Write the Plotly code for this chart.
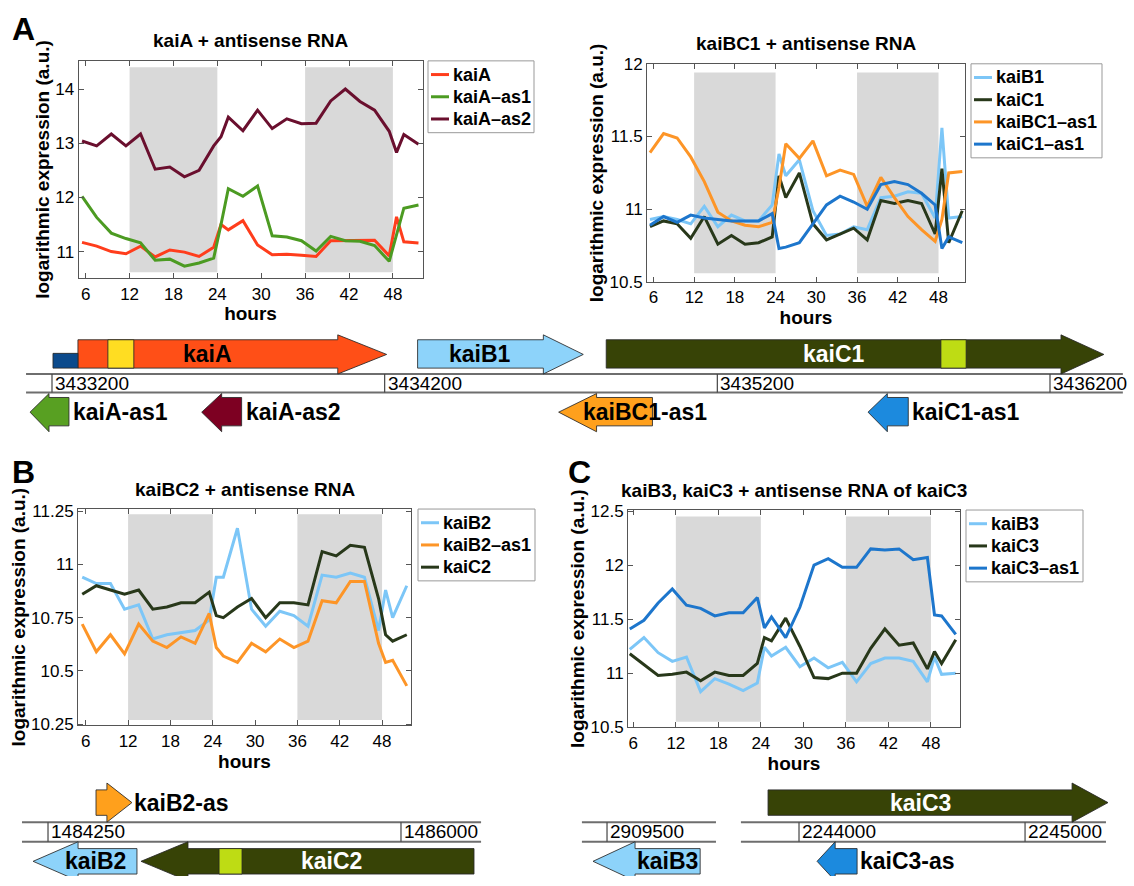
import plotly.graph_objects as go

# ---------------------------------------------------------------- data
hours = [5.5, 7.5, 9.5, 11.5, 13.5, 15.5, 17.5, 19.5, 21.5, 23.5, 24.5, 25.5, 27.5,
         29.5, 31.5, 33.5, 35.5, 37.5, 39.5, 41.5, 43.5, 45.5, 47.5, 48.5, 49.5, 51.5]
dark_intervals = [(12, 24), (36, 48)]
hour_ticks = [6, 12, 18, 24, 30, 36, 42, 48]

kaiA = [11.17, 11.10, 11.00, 10.96, 11.10, 10.90, 11.03, 10.99, 10.91, 11.08, 11.50, 11.40, 11.57,
        11.12, 10.94, 10.95, 10.93, 10.91, 11.20, 11.20, 11.21, 11.21, 10.92, 11.64, 11.18, 11.16]
kaiA_as1 = [12.02, 11.63, 11.34, 11.24, 11.16, 10.84, 10.86, 10.73, 10.79, 10.88, 11.50, 12.16, 12.02,
            12.21, 11.29, 11.27, 11.20, 11.01, 11.28, 11.20, 11.19, 11.11, 10.82, 11.30, 11.80, 11.86]
kaiA_as2 = [13.04, 12.95, 13.17, 12.95, 13.17, 12.52, 12.56, 12.38, 12.50, 12.95, 13.12, 13.48, 13.23,
            13.61, 13.27, 13.45, 13.36, 13.37, 13.78, 14.00, 13.77, 13.61, 13.22, 12.83, 13.16, 12.98]

kaiB1 = [10.93, 10.95, 10.93, 10.90, 11.02, 10.88, 10.96, 10.92, 10.92, 11.03, 11.38, 11.23, 11.34,
         10.99, 10.82, 10.83, 10.88, 10.86, 11.08, 11.09, 11.12, 11.11, 10.94, 11.56, 10.94, 10.95]
kaiC1 = [10.88, 10.92, 10.90, 10.80, 10.95, 10.76, 10.82, 10.76, 10.77, 10.81, 11.23, 11.08, 11.25,
         10.90, 10.79, 10.83, 10.87, 10.79, 11.06, 11.04, 11.06, 11.04, 10.83, 11.28, 10.77, 10.99]
kaiBC1_as1 = [11.39, 11.52, 11.49, 11.36, 11.19, 10.98, 10.92, 10.89, 10.88, 10.91, 11.15, 11.45, 11.35,
              11.47, 11.23, 11.27, 11.24, 11.02, 11.22, 11.08, 10.95, 10.86, 10.78, 10.93, 11.25, 11.26]
kaiC1_as1 = [10.89, 10.95, 10.91, 10.96, 10.94, 10.93, 10.92, 10.92, 10.92, 10.97, 10.73, 10.74, 10.77,
             10.90, 11.03, 11.09, 11.05, 11.00, 11.17, 11.19, 11.17, 11.11, 11.03, 10.73, 10.81, 10.77]

kaiB2 = [10.94, 10.91, 10.91, 10.79, 10.81, 10.65, 10.67, 10.68, 10.69, 10.74, 10.94, 10.94, 11.17,
         10.79, 10.71, 10.78, 10.76, 10.71, 10.95, 10.94, 10.96, 10.94, 10.69, 10.88, 10.75, 10.90]
kaiB2_as1 = [10.72, 10.59, 10.67, 10.58, 10.72, 10.64, 10.61, 10.66, 10.63, 10.77, 10.61, 10.57, 10.54,
             10.63, 10.59, 10.65, 10.61, 10.64, 10.83, 10.82, 10.92, 10.92, 10.63, 10.54, 10.55, 10.43]
kaiC2 = [10.86, 10.90, 10.88, 10.86, 10.88, 10.79, 10.80, 10.82, 10.82, 10.87, 10.76, 10.75, 10.80,
         10.84, 10.75, 10.82, 10.82, 10.81, 11.06, 11.04, 11.09, 11.08, 10.84, 10.67, 10.64, 10.67]

kaiB3 = [11.22, 11.33, 11.19, 11.11, 11.15, 10.83, 10.95, 10.90, 10.84, 10.91, 11.24, 11.16, 11.24,
         11.06, 11.14, 11.05, 11.10, 10.92, 11.09, 11.14, 11.14, 11.11, 10.92, 11.15, 10.99, 11.00]
kaiC3 = [11.18, 11.08, 10.98, 10.99, 11.01, 10.93, 11.01, 10.98, 10.98, 11.09, 11.33, 11.30, 11.51,
         11.25, 10.96, 10.95, 11.00, 11.00, 11.23, 11.41, 11.26, 11.28, 11.04, 11.20, 11.09, 11.31]
kaiC3_as1 = [11.41, 11.49, 11.65, 11.78, 11.63, 11.60, 11.53, 11.56, 11.56, 11.70, 11.42, 11.52, 11.33,
             11.61, 12.00, 12.06, 11.98, 11.98, 12.15, 12.14, 12.15, 12.05, 12.07, 11.54, 11.53, 11.36]

ytick_a1 = ["11", "12", "13", "14"]
ytick_a2 = ["10.5", "11", "11.5", "12"]
ytick_b = ["10.25", "10.5", "10.75", "11", "11.25"]
ytick_c = ["10.5", "11", "11.5", "12", "12.5"]

# genome coordinates (bp): name, start, end, strand
genes_a = [("kaiA", 3433278, 3434206, 1), ("kaiB1", 3434299, 3434797, 1),
           ("kaiC1", 3434866, 3436362, 1), ("kaiA-as1", 3433134, 3433251, -1),
           ("kaiA-as2", 3433650, 3433770, -1), ("kaiBC1-as1", 3434723, 3435005, -1),
           ("kaiC1-as1", 3435653, 3435774, -1)]
# sequence features (bp): start, end, strand
features_a = [(3433203, 3433278, 1), (3433368, 3433446, 1), (3435872, 3435948, 1)]
ruler_a = [3433122, 3436419]
ticks_a = [3433200, 3434200, 3435200, 3436200]

genes_b = [("kaiB2-as", 1484488, 1484666, 1), ("kaiB2", 1484176, 1484691, -1),
           ("kaiC2", 1484711, 1486362, -1)]
features_b = [(1485098, 1485212, -1)]
ruler_b = [1484121, 1486397]
ticks_b = [1484250, 1486000]

genes_c1 = [("kaiB3", 2909438, 2909912, -1)]
ruler_c1 = [2909389, 2909982]
ticks_c1 = [2909500]

genes_c2 = [("kaiC3", 2243863, 2245367, 1), ("kaiC3-as", 2244080, 2244257, -1)]
ruler_c2 = [2243743, 2245358]
ticks_c2 = [2244000, 2245000]

# ---------------------------------------------------------------- style
W, H = 1134, 886
FONT = "Liberation Sans, Arial, sans-serif"
LW = 3

def xdom(a, b):
    return [a / W, b / W]

def ydom(top, bottom):
    return [1 - bottom / H, 1 - top / H]

line_colors = {
    "kaiA": "#ff3d1c", "kaiA\u2013as1": "#4c9b22", "kaiA\u2013as2": "#6a0f2e",
    "kaiB1": "#7cc6f7", "kaiC1": "#28381a", "kaiBC1\u2013as1": "#fd9527", "kaiC1\u2013as1": "#1d76cc",
    "kaiB2": "#7cc6f7", "kaiB2\u2013as1": "#fd9527", "kaiC2": "#28381a",
    "kaiB3": "#7cc6f7", "kaiC3": "#28381a", "kaiC3\u2013as1": "#1d76cc",
}

gene_colors = {
    "kaiA": "#ff4f17", "kaiB1": "#8dd3fa", "kaiC1": "#374306", "kaiA-as1": "#58a022",
    "kaiA-as2": "#7d0022", "kaiBC1-as1": "#ffa01c", "kaiC1-as1": "#1c8ade",
    "kaiB2-as": "#ffa01c", "kaiB2": "#8dd3fa", "kaiC2": "#374306",
    "kaiB3": "#8dd3fa", "kaiC3": "#374306", "kaiC3-as": "#1c8ade",
}
# colour and height fraction of each feature box
feature_style_a = [("#0b4a8c", 0.52), ("#ffdd22", 1.0), ("#bedc14", 1.0)]
feature_style_b = [("#bedc14", 1.0)]

# arrow head length in bp
head_len = {"kaiA": 147, "kaiB1": 120, "kaiC1": 129, "kaiA-as1": 57, "kaiA-as2": 60,
            "kaiBC1-as1": 114, "kaiC1-as1": 58, "kaiB2-as": 124, "kaiB2": 223,
            "kaiC2": 233, "kaiB3": 186, "kaiC3": 159, "kaiC3-as": 80}
white_text = {"kaiC1", "kaiC2", "kaiC3"}

fig = go.Figure()

panels = [
    # axis suffix, domain x, domain y, x range, y range, yticks, ytext, shade y, title, series,
    # legend box (left, top, width)
    ("", xdom(78.6, 422.5), ydom(53, 275), [5.03, 52.05], [10.51, 14.52],
     [11, 12, 13, 14], ytick_a1, (10.62, 14.40), "kaiA + antisense RNA",
     [("kaiA", kaiA), ("kaiA\u2013as1", kaiA_as1), ("kaiA\u2013as2", kaiA_as2)],
     (428, 53, 106)),
    ("2", xdom(647, 965), ydom(56, 279), [5.06, 51.9], [10.5, 12.0],
     [10.5, 11, 11.5, 12], ytick_a2, (10.56, 11.94), "kaiBC1 + antisense RNA",
     [("kaiB1", kaiB1), ("kaiC1", kaiC1), ("kaiBC1\u2013as1", kaiBC1_as1), ("kaiC1\u2013as1", kaiC1_as1)],
     (971, 56, 131)),
    ("3", xdom(78, 411), ydom(511, 732), [4.9, 52.1], [10.245, 11.26],
     [10.25, 10.5, 10.75, 11, 11.25], ytick_b, (10.27, 11.235), "kaiBC2 + antisense RNA",
     [("kaiB2", kaiB2), ("kaiB2\u2013as1", kaiB2_as1), ("kaiC2", kaiC2)],
     (418, 511, 117)),
    ("4", xdom(628, 960), ydom(512, 734), [5.25, 52.1], [10.5, 12.51],
     [10.5, 11, 11.5, 12, 12.5], ytick_c, (10.55, 12.45), "kaiB3, kaiC3 + antisense RNA of kaiC3",
     [("kaiB3", kaiB3), ("kaiC3", kaiC3), ("kaiC3\u2013as1", kaiC3_as1)],
     (966, 512, 117)),
]

layout_axes = {}
shapes = []
annotations = []
ROW0, ROWSTEP = 14, 22.7

for suf, dx, dy, xr, yr, ytv, ytt, shade, title, series, leg in panels:
    xa, ya = "x" + suf, "y" + suf
    for name, vals in series:
        fig.add_trace(go.Scatter(
            x=hours, y=vals, mode="lines", name=name, showlegend=False,
            line=dict(color=line_colors[name], width=LW),
            xaxis=xa, yaxis=ya, hoverinfo="skip"))
    for a, b in dark_intervals:
        shapes.append(dict(type="rect", xref=xa, yref=ya, x0=a, x1=b, y0=shade[0], y1=shade[1],
                           fillcolor="#d9d9d9", line=dict(width=0), layer="below"))
    common = dict(showline=True, linecolor="#555", linewidth=1, mirror="ticks",
                  ticks="inside", ticklen=5, tickwidth=1, tickcolor="#555",
                  showgrid=False, zeroline=False, fixedrange=True,
                  tickfont=dict(family=FONT, size=17, color="black"))
    layout_axes["xaxis" + suf] = dict(
        domain=dx, range=xr, anchor=ya, tickvals=hour_ticks,
        ticktext=[str(t) for t in hour_ticks],
        title=dict(text="hours", standoff=0,
                   font=dict(family=FONT, size=19, color="black", weight="bold")),
        **common)
    layout_axes["yaxis" + suf] = dict(
        domain=dy, range=yr, anchor=xa, tickvals=ytv, ticktext=ytt,
        title=dict(text="logarithmic expression (a.u.)", standoff=0,
                   font=dict(family=FONT, size=19, color="black", weight="bold")),
        **common)
    annotations.append(dict(
        text=title, xref="paper", yref="paper", x=(dx[0] + dx[1]) / 2,
        y=dy[1], yshift=20, xanchor="center", yanchor="middle", showarrow=False,
        font=dict(family=FONT, size=19, color="black", weight="bold")))

    # boxed legend: short line sample followed by the series name
    lx, ly, lw = leg
    lh = 2 * ROW0 + (len(series) - 1) * ROWSTEP
    shapes.append(dict(type="rect", xref="paper", yref="paper",
                       x0=lx / W, x1=(lx + lw) / W, y0=1 - (ly + lh) / H, y1=1 - ly / H,
                       fillcolor="white", line=dict(color="#999", width=1), layer="above"))
    for i, (name, _) in enumerate(series):
        ry = ly + ROW0 + i * ROWSTEP
        shapes.append(dict(type="line", xref="paper", yref="paper",
                           x0=(lx + 3) / W, x1=(lx + 21) / W, y0=1 - ry / H, y1=1 - ry / H,
                           line=dict(color=line_colors[name], width=LW), layer="above"))
        annotations.append(dict(text=name, xref="paper", yref="paper", x=(lx + 23) / W,
                                y=1 - ry / H, xanchor="left", yanchor="middle", showarrow=False,
                                font=dict(family=FONT, size=18, color="black", weight="bold")))

# ---------------------------------------------------------------- gene maps
def gene_track(ax_suf, dom_x, dom_y, xr, yr, genes, features, feature_style, ruler, ticks,
               fwd, rev, band, label_left):
    xa, ya = "x" + ax_suf, "y" + ax_suf
    layout_axes["xaxis" + ax_suf] = dict(domain=dom_x, range=xr, visible=False,
                                         fixedrange=True, anchor=ya)
    layout_axes["yaxis" + ax_suf] = dict(domain=dom_y, range=yr, visible=False,
                                         fixedrange=True, anchor=xa)
    outline = dict(color="rgba(40,40,40,0.85)", width=1)
    # ruler band
    for yy in (band, -band):
        fig.add_trace(go.Scatter(x=ruler, y=[yy, yy], mode="lines", showlegend=False,
                                 line=dict(color="#6e6e6e", width=2), xaxis=xa, yaxis=ya,
                                 hoverinfo="skip"))
    for t in ticks:
        fig.add_trace(go.Scatter(x=[t, t], y=[-band, band], mode="lines", showlegend=False,
                                 line=dict(color="#444", width=1.2), xaxis=xa, yaxis=ya,
                                 hoverinfo="skip"))
        annotations.append(dict(text=str(t), x=t, y=0, xref=xa, yref=ya, xanchor="left",
                                yanchor="middle", xshift=1, showarrow=False,
                                font=dict(family=FONT, size=19, color="black")))
    for name, s, e, strand in genes:
        body, head, c = (fwd if strand > 0 else rev)
        h = head_len[name]
        if strand > 0:
            neck = e - h
            xs = [s, neck, neck, e, neck, neck, s, s]
        else:
            neck = s + h
            xs = [e, neck, neck, s, neck, neck, e, e]
        ys = [body[0], body[0], head[0], c, head[1], body[1], body[1], body[0]]
        fig.add_trace(go.Scatter(x=xs, y=ys, mode="lines", fill="toself",
                                 fillcolor=gene_colors[name], showlegend=False, line=outline,
                                 xaxis=xa, yaxis=ya, hoverinfo="skip"))
    for (s, e, strand), (col, frac) in zip(features, feature_style):
        body = (fwd if strand > 0 else rev)[0]
        if strand > 0:
            y0, y1 = body[0], body[0] + frac * (body[1] - body[0])
        else:
            y0, y1 = body[1] - frac * (body[1] - body[0]), body[1]
        fig.add_trace(go.Scatter(x=[s, e, e, s, s], y=[y0, y0, y1, y1, y0],
                                 mode="lines", fill="toself", fillcolor=col, showlegend=False,
                                 line=outline, xaxis=xa, yaxis=ya, hoverinfo="skip"))
    for name, s, e, strand in genes:
        body, head, c = (fwd if strand > 0 else rev)
        lab_font = dict(family=FONT, size=23, weight="bold",
                        color="white" if name in white_text else "black")
        if name in label_left:
            annotations.append(dict(text=name, x=label_left[name], y=c, xref=xa, yref=ya,
                                    xanchor="left", yanchor="middle", showarrow=False,
                                    font=lab_font))
        else:
            h = head_len[name]
            mid = (s + e - h) / 2 if strand > 0 else (s + h + e) / 2
            annotations.append(dict(text=name, x=mid, y=c, xref=xa, yref=ya,
                                    xanchor="center", yanchor="middle", showarrow=False,
                                    font=lab_font))

FWD_A = ((15.5, 44.5), (9.5, 49.5), 29.5)
REV_A = ((-43.5, -14.5), (-49.5, -10.5), -29.5)
FWD_B = ((17, 43), (10, 50), 30)
REV_B = ((-43, -17), (-50, -10), -30)

# track A: one y unit per pixel, centred on the ruler
gene_track("5", [0, 1], ydom(322, 440), [3433043.7, 3436452.5], [-57.5, 60.5],
           genes_a, features_a, feature_style_a, ruler_a, ticks_a, FWD_A, REV_A, 9.5,
           {"kaiA-as1": 3433258, "kaiA-as2": 3433776, "kaiBC1-as1": 3434790,
            "kaiC1-as1": 3435780})
gene_track("6", xdom(0, 567), ydom(780, 886), [1484012, 1486823], [-45, 61],
           genes_b, features_b, feature_style_b, ruler_b, ticks_b, FWD_B, REV_B, 10,
           {"kaiB2-as": 1484668, "kaiB2": 1484326})
gene_track("7", xdom(567, 730), ydom(780, 886), [2909323, 2910044], [-45, 61],
           genes_c1, [], [], ruler_c1, ticks_c1, FWD_B, REV_B, 10, {})
gene_track("8", xdom(730, 1134), ydom(780, 886), [2243694.7, 2245482], [-45, 61],
           genes_c2, [], [], ruler_c2, ticks_c2, FWD_B, REV_B, 10, {"kaiC3-as": 2244262})

# panel letters
for letter, px, py in (("A", 10, 0), ("B", 10, 453), ("C", 566, 453)):
    annotations.append(dict(text=letter, x=px / W, y=1 - py / H, xref="paper", yref="paper",
                            xanchor="left", yanchor="top", showarrow=False,
                            font=dict(family=FONT, size=32, color="black", weight="bold")))

fig.update_layout(
    width=W, height=H, margin=dict(l=0, r=0, t=0, b=0),
    paper_bgcolor="white", plot_bgcolor="white", showlegend=False,
    shapes=shapes, annotations=annotations, **layout_axes)

fig.write_html("out.html")
